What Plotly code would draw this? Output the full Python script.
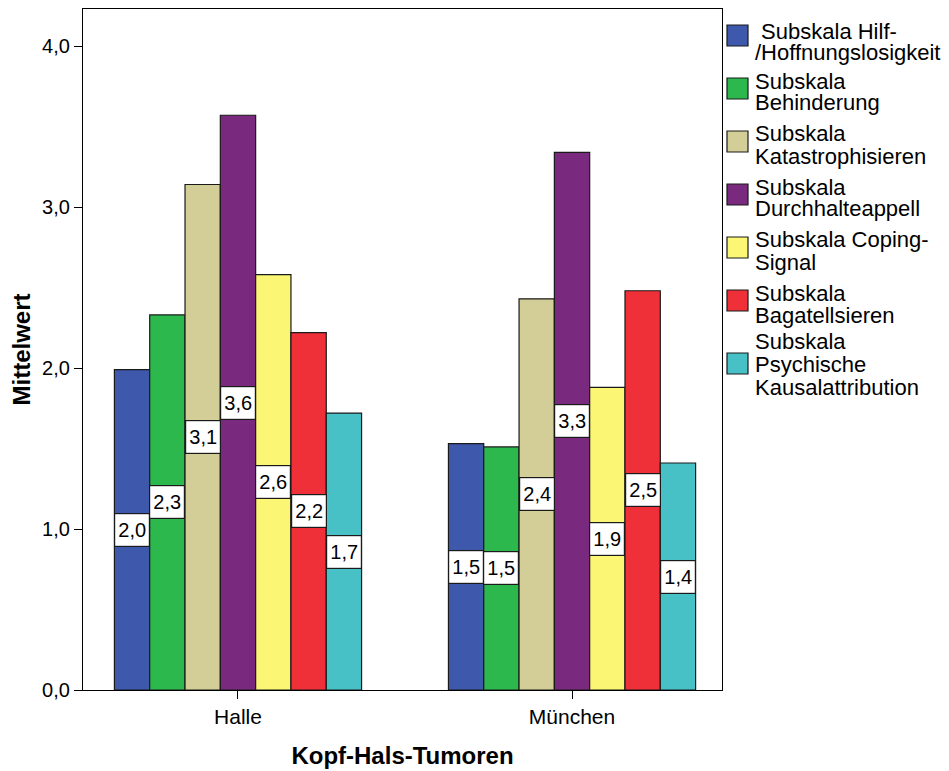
import plotly.graph_objects as go

categories = ["Halle", "München"]
series_names = [
    "Subskala Hilf-/Hoffnungslosigkeit",
    "Subskala Behinderung",
    "Subskala Katastrophisieren",
    "Subskala Durchhalteappell",
    "Subskala Coping-Signal",
    "Subskala Bagatellsieren",
    "Subskala Psychische Kausalattribution",
]
halle_values = [1.99, 2.33, 3.14, 3.57, 2.58, 2.22, 1.72]
muenchen_values = [1.53, 1.51, 2.43, 3.34, 1.88, 2.48, 1.41]
colors = ["#3e58ac", "#2db84d", "#d3ce97", "#7a2a7e", "#fbf674", "#ef3038", "#48c1c6"]
y_ticks = [0, 1, 2, 3, 4]
legend_lines = [
    [" Subskala Hilf-", "/Hoffnungslosigkeit"],
    ["Subskala", "Behinderung"],
    ["Subskala", "Katastrophisieren"],
    ["Subskala", "Durchhalteappell"],
    ["Subskala Coping-", "Signal"],
    ["Subskala", "Bagatellsieren"],
    ["Subskala", "Psychische", "Kausalattribution"],
]

# page has an 8px body margin; compensate so the plot box lands where the reference has it
OFF = 8
W, H = 949 - OFF, 771 - OFF
L, R, T, B = 83, 722, 9, 690  # plot area in page pixels


def px(x):
    return (x - L) / (R - L)


def py(y):
    return (B - y) / (B - T)


FONT = "Arial, Liberation Sans, sans-serif"
fig = go.Figure()
for i, name in enumerate(series_names):
    vals = [halle_values[i], muenchen_values[i]]
    fig.add_trace(go.Bar(
        x=[0, 1], y=vals, name=name,
        marker=dict(color=colors[i], line=dict(color="#1a1a1a", width=1.2)),
        showlegend=False, hoverinfo="y",
    ))

group_w = 0.74
n = len(series_names)
annotations = []
for g, vals in enumerate([halle_values, muenchen_values]):
    for i, v in enumerate(vals):
        xc = g - group_w / 2 + group_w / n * (i + 0.5)
        annotations.append(dict(
            x=xc, y=v / 2, xref="x", yref="y",
            text=f"{v:.1f}".replace(".", ","), showarrow=False,
            font=dict(family=FONT, size=20, color="black"),
            bgcolor="white", bordercolor="#1a1a1a", borderwidth=1.2,
            width=32, height=30, borderpad=1, xanchor="center", yanchor="middle",
        ))

# manual legend (pixel layout in page coordinates)
leg_sq = [(25, 46), (78, 99), (131, 152), (184, 205), (237, 258), (290, 311), (353, 374)]
leg_y = [(31, 53), (81, 103), (134, 156), (187, 209), (240, 262), (293, 315), (341, 364, 387)]
shapes = []
for i, (y0, y1) in enumerate(leg_sq):
    shapes.append(dict(type="rect", xref="paper", yref="paper",
                       x0=px(727), x1=px(748), y0=py(y1), y1=py(y0),
                       fillcolor=colors[i], line=dict(color="#1a1a1a", width=1.2)))
    for text, yy in zip(legend_lines[i], leg_y[i]):
        annotations.append(dict(
            x=px(753), y=py(yy), xref="paper", yref="paper", text=text,
            showarrow=False, xanchor="left", yanchor="middle",
            font=dict(family=FONT, size=22, color="black"),
        ))

fig.update_layout(
    width=W, height=H, barmode="group", bargap=0.26, bargroupgap=0,
    separators=",.",
    margin=dict(l=L - OFF, r=949 - R, t=T - OFF, b=771 - B, pad=0),
    paper_bgcolor="white", plot_bgcolor="white",
    font=dict(family=FONT, size=20, color="black"),
    annotations=annotations, shapes=shapes,
    xaxis=dict(
        range=[-0.464, 1.449], tickvals=[0, 1], ticktext=categories,
        ticks="outside", ticklen=8, tickwidth=1.2, tickcolor="black",
        showline=True, linecolor="black", linewidth=1.2, mirror=True,
        showgrid=False, zeroline=False,
        tickfont=dict(family=FONT, size=21),
        title=dict(text="<b>Kopf-Hals-Tumoren</b>", font=dict(family=FONT, size=24), standoff=19),
    ),
    yaxis=dict(
        range=[0, 4.23], tickvals=y_ticks, tickformat=".1f",
        ticks="outside", ticklen=8, tickwidth=1.2, tickcolor="black",
        showline=True, linecolor="black", linewidth=1.2, mirror=True,
        showgrid=False, zeroline=False,
        tickfont=dict(family=FONT, size=20),
        title=dict(text="<b>Mittelwert</b>", font=dict(family=FONT, size=24), standoff=5),
    ),
)

fig.write_html("out.html")
